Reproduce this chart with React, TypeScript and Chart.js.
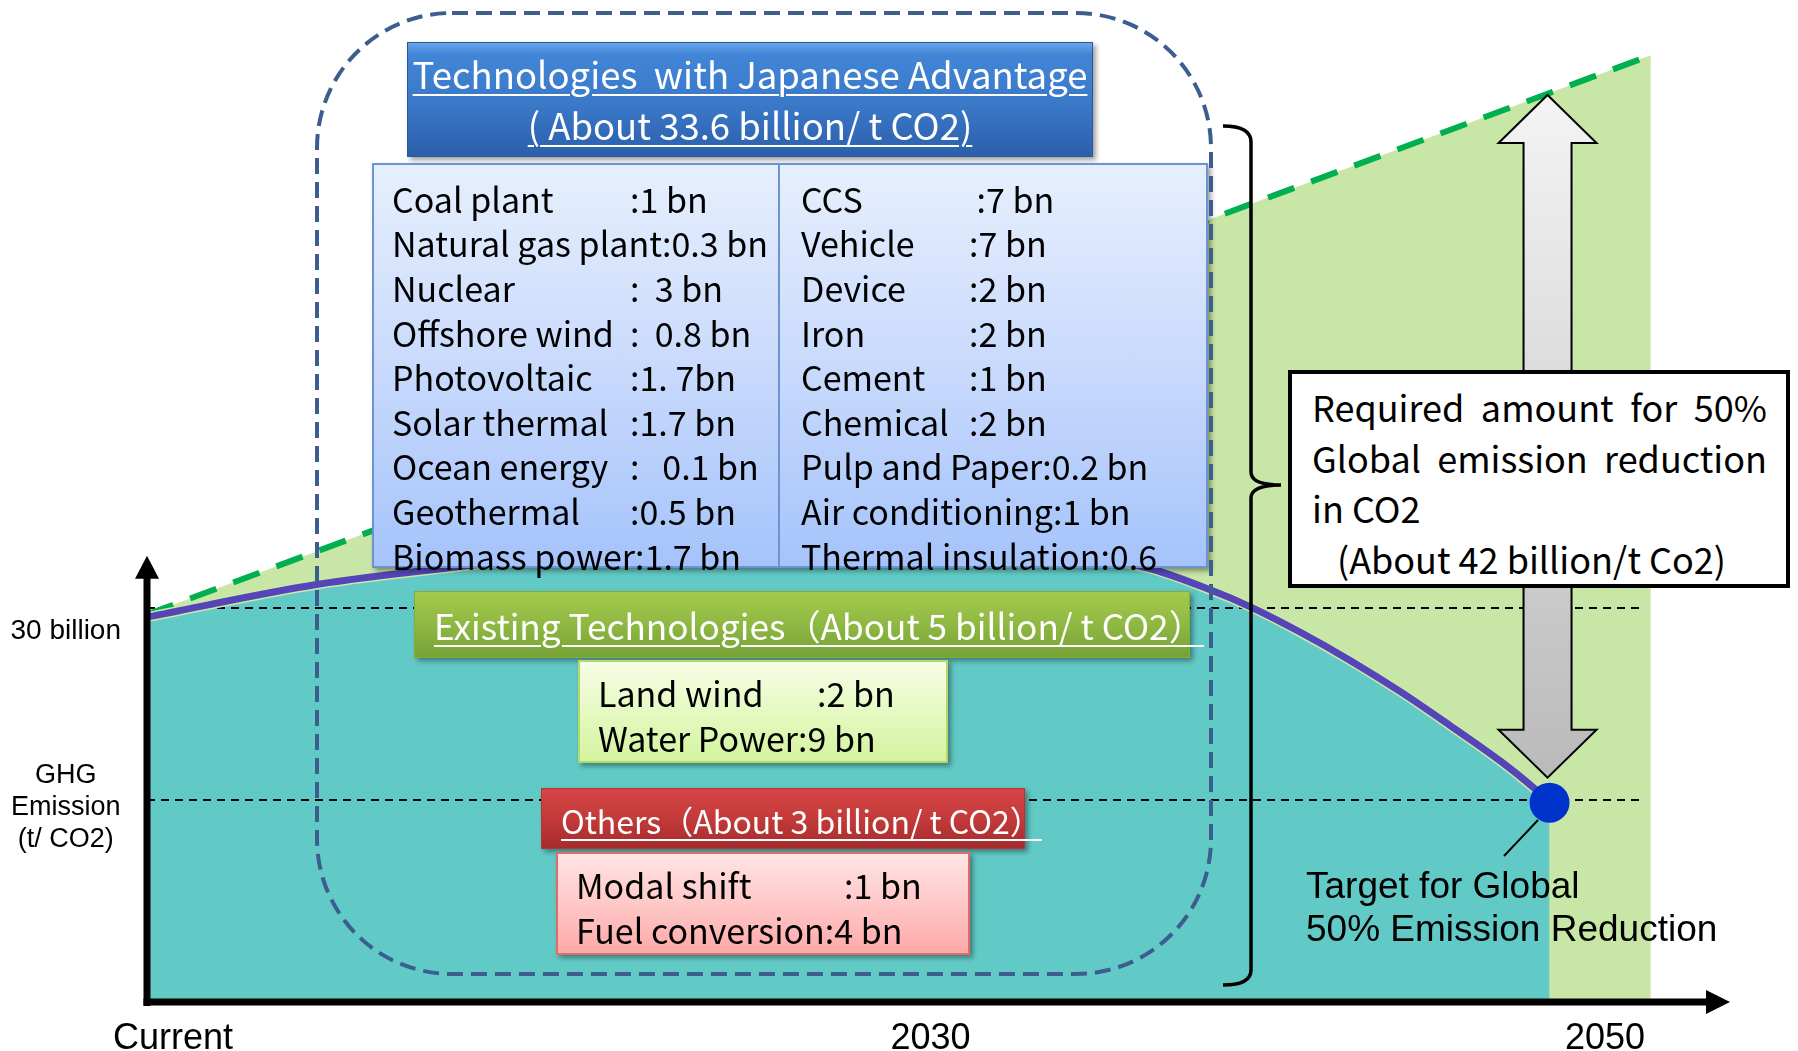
import React, { useEffect, useRef } from "react";
import { Chart, registerables } from "chart.js";

Chart.register(...registerables);

// ---------- data ----------
const xTickValues = [1.64, 49.5, 92.1];
const xTickLabels = ["Current", "2030", "2050"];
const refLevels = [30, 15.3];
const yTickValues = [15.3, 30];
const yTickLabels = [["GHG", "Emission", "(t/ CO2)"], ["", "30 billion"]];

const emissionX = [0, 10.7, 19.3, 38.7, 53.9, 63.2, 67.2, 69.7, 72.8, 76.0, 79.2, 82.3, 85.5, 87.6, 88.6];
const emissionY = [29.3, 31.8, 33.1, 35.4, 34.7, 33.06, 31.37, 30.09, 28.18, 25.99, 23.58, 21.02, 18.28, 16.23, 15.07];
const bauX = [0, 95.0];
const bauY = [29.5, 72.3];
const refLineX = [0, 94.6];
const targetX = 88.6;
const targetY = 15.1;
const yAxisTop = 34.0;

const headerJapan = ["Technologies  with Japanese Advantage", "( About 33.6 billion/ t CO2)"];
const leftTechNames = ["Coal plant", "Natural gas plant", "Nuclear", "Offshore wind", "Photovoltaic", "Solar thermal", "Ocean energy", "Geothermal", "Biomass power"];
const leftTechValues = [":1 bn", ":0.3 bn", ":  3 bn", ":  0.8 bn", ":1. 7bn", ":1.7 bn", ":   0.1 bn", ":0.5 bn", ":1.7 bn"];
const rightTechNames = ["CCS", "Vehicle", "Device", "Iron", "Cement", "Chemical", "Pulp and Paper", "Air conditioning", "Thermal insulation"];
const rightTechValues = [" :7 bn", ":7 bn", ":2 bn", ":2 bn", ":1 bn", ":2 bn", ":0.2 bn", ":1 bn", ":0.6"];
const headerExisting = "Existing Technologies（About 5 billion/ t CO2）";
const existingNames = ["Land wind", "Water Power"];
const existingValues = [":2 bn", ":9 bn"];
const headerOthers = "Others（About 3 billion/ t CO2）";
const otherNames = ["Modal shift", "Fuel conversion"];
const otherValues = [":1 bn", ":4 bn"];
const requiredLines = ["Required amount for 50%", "Global emission reduction", "in CO2", "(About 42 billion/t Co2)"];
const targetLines = ["Target for Global", "50% Emission Reduction"];

// ---------- styles ----------
const JP = '"Noto Sans CJK JP", "Noto Sans", sans-serif';
const AR = '"Liberation Sans", Arial, sans-serif';
const K_JP = 0.436;
const K_AR = 0.3465;

function Txt(props: any) {
  const { x, baseline, fs, lh, family = JP, k = K_JP, color = "#000", width, align, underline, extra, children } = props;
  return (
    <div
      style={{
        position: "absolute",
        left: x,
        top: baseline - (lh / 2 + k * fs),
        width,
        height: lh,
        lineHeight: lh + "px",
        fontSize: fs,
        fontFamily: family,
        color,
        whiteSpace: "pre",
        textAlign: align,
        textDecoration: underline ? "underline" : "none",
        textDecorationThickness: underline ? 2 : undefined,
        textUnderlineOffset: underline ? 5 : undefined,
        zIndex: 3,
        ...extra,
      }}
    >
      {children}
    </div>
  );
}

function Rows(props: any) {
  const { names, values, x, base, step, fs, nameW } = props;
  return (
    <>
      {names.map((n: string, i: number) => (
        <Txt key={i} x={x} baseline={base + i * step} fs={fs} lh={step}>
          <span style={{ display: "inline-block", minWidth: Array.isArray(nameW) ? nameW[i] : nameW }}>{n}</span>
          {values[i]}
        </Txt>
      ))}
    </>
  );
}

function Box(props: any) {
  const { l, t, w, h, bg, border, shadow = true, z = 2 } = props;
  return (
    <div
      style={{
        position: "absolute",
        left: l,
        top: t,
        width: w,
        height: h,
        boxSizing: "border-box",
        background: bg,
        border,
        boxShadow: shadow ? "3px 3px 5px rgba(0,0,0,0.38)" : undefined,
        zIndex: z,
      }}
    />
  );
}

export default function App() {
  const canvasRef = useRef<HTMLCanvasElement>(null);

  useEffect(() => {
    const decor = {
      id: "decor",
      afterDatasetsDraw(chart: any) {
        const { ctx, chartArea: a, scales } = chart;
        const xs = scales.x;
        const ys = scales.y;
        ctx.save();
        // gray double arrow between BAU line and target
        const ax = xs.getPixelForValue(targetX) - 2;
        const bauAt = bauY[0] + ((bauY[1] - bauY[0]) * (targetX - bauX[0])) / (bauX[1] - bauX[0]);
        const top = ys.getPixelForValue(bauAt) + 2;
        const bot = ys.getPixelForValue(targetY) - 25;
        const hw = 49, sw = 24, hl = 48;
        ctx.beginPath();
        ctx.moveTo(ax, top);
        ctx.lineTo(ax + hw, top + hl);
        ctx.lineTo(ax + sw, top + hl);
        ctx.lineTo(ax + sw, bot - hl);
        ctx.lineTo(ax + hw, bot - hl);
        ctx.lineTo(ax, bot);
        ctx.lineTo(ax - hw, bot - hl);
        ctx.lineTo(ax - sw, bot - hl);
        ctx.lineTo(ax - sw, top + hl);
        ctx.lineTo(ax - hw, top + hl);
        ctx.closePath();
        const g = ctx.createLinearGradient(0, top, 0, bot);
        g.addColorStop(0, "#f4f4f4");
        g.addColorStop(1, "#bababa");
        ctx.fillStyle = g;
        ctx.fill();
        ctx.lineWidth = 2;
        ctx.strokeStyle = "#000";
        ctx.stroke();

        // axes with arrow heads
        ctx.fillStyle = "#000";
        ctx.strokeStyle = "#000";
        ctx.lineWidth = 7;
        const yTip = ys.getPixelForValue(yAxisTop);
        ctx.beginPath();
        ctx.moveTo(a.left, a.bottom + 6);
        ctx.lineTo(a.left, yTip + 20);
        ctx.stroke();
        ctx.beginPath();
        ctx.moveTo(a.left, yTip);
        ctx.lineTo(a.left + 12, yTip + 23);
        ctx.lineTo(a.left - 12, yTip + 23);
        ctx.closePath();
        ctx.fill();
        const yb = a.bottom + 2;
        ctx.beginPath();
        ctx.moveTo(a.left - 3.5, yb);
        ctx.lineTo(a.right - 20, yb);
        ctx.stroke();
        ctx.beginPath();
        ctx.moveTo(a.right, yb);
        ctx.lineTo(a.right - 24, yb - 12);
        ctx.lineTo(a.right - 24, yb + 12);
        ctx.closePath();
        ctx.fill();
        ctx.restore();
      },
    };

    const refSets = refLevels.map((lv) => ({
      label: "ref " + lv,
      data: refLineX.map((x) => ({ x, y: lv })),
      borderColor: "#000",
      borderWidth: 2,
      borderDash: [8, 6],
      pointRadius: 0,
      fill: false,
      tension: 0,
      order: 7,
    }));

    const emissionData = emissionX.map((x, i) => ({ x, y: emissionY[i] }));

    const chart = new Chart(canvasRef.current as HTMLCanvasElement, {
      type: "line",
      data: {
        datasets: [
          {
            label: "Target",
            data: [{ x: targetX, y: targetY }],
            showLine: false,
            pointRadius: 20,
            pointBackgroundColor: "#0033cc",
            pointBorderWidth: 0,
            fill: false,
            order: 0,
          },
          {
            label: "Emission",
            data: emissionData,
            borderColor: "#5446b9",
            borderWidth: 7,
            backgroundColor: "#62cac6",
            fill: "origin",
            pointRadius: 0,
            cubicInterpolationMode: "monotone",
            order: 1,
          },
          {
            label: "Emission halo",
            data: emissionData,
            borderColor: "#cfe8a6",
            borderWidth: 10,
            fill: false,
            pointRadius: 0,
            cubicInterpolationMode: "monotone",
            order: 5,
          },
          {
            label: "BAU",
            data: bauX.map((x, i) => ({ x, y: bauY[i] })),
            borderColor: "#00b050",
            borderWidth: 6,
            borderDash: [28, 18],
            backgroundColor: "#c8e6a5",
            fill: "origin",
            pointRadius: 0,
            tension: 0,
            order: 6,
          },
          ...refSets,
        ] as any,
      },
      options: {
        animation: false,
        responsive: false,
        maintainAspectRatio: false,
        events: [],
        layout: { padding: { top: 20, right: 68, left: 0, bottom: 0 } },
        plugins: {
          legend: { display: false },
          tooltip: { enabled: false },
          filler: { drawTime: "beforeDatasetsDraw" },
        } as any,
        scales: {
          x: {
            type: "linear",
            min: 0,
            max: 100,
            grid: { display: false, drawTicks: false },
            border: { display: false },
            afterBuildTicks: (s: any) => {
              s.ticks = xTickValues.map((v) => ({ value: v }));
            },
            afterFit: (s: any) => {
              s.height = 51;
              s.paddingLeft = 0;
              s.paddingRight = 0;
            },
            ticks: {
              autoSkip: false,
              maxRotation: 0,
              padding: 17,
              color: "#000",
              font: { family: AR, size: 36, lineHeight: 1.2 },
              callback: (_v: any, i: number) => xTickLabels[i],
            },
          },
          y: {
            type: "linear",
            min: 0,
            max: 75,
            grid: { display: false, drawTicks: false },
            border: { display: false },
            afterBuildTicks: (s: any) => {
              s.ticks = yTickValues.map((v) => ({ value: v }));
            },
            afterFit: (s: any) => {
              s.width = 147;
              s.paddingTop = 0;
              s.paddingBottom = 0;
            },
            ticks: {
              crossAlign: "center",
              padding: 26,
              labelOffset: 7,
              color: "#000",
              font: (c: any) =>
                c.tick && c.tick.value === 30
                  ? { family: AR, size: 28, lineHeight: 32 / 28 }
                  : { family: AR, size: 27, lineHeight: 32 / 27 },
              callback: (v: any) => {
                const i = yTickValues.indexOf(Number(v));
                return i >= 0 ? yTickLabels[i] : "";
              },
            },
          },
        } as any,
      },
      plugins: [decor],
    });
    return () => chart.destroy();
  }, []);

  const listStep = 44.6;
  const justify = { textAlign: "justify", textAlignLast: "justify", whiteSpace: "normal" };

  return (
    <div style={{ position: "fixed", left: 0, top: 0, width: 1798, height: 1051, background: "#fff", overflow: "hidden" }}>
      <canvas ref={canvasRef} width={1798} height={1051} style={{ position: "absolute", left: 0, top: 0, width: 1798, height: 1051 }} />

      {/* Japanese advantage header */}
      <Box l={407} t={42} w={686} h={115} bg="linear-gradient(180deg,#66a6ea 0%,#4285d6 10%,#3a78c8 55%,#2c5fab 100%)" border="1px solid #2a5898" />
      <Txt x={407} width={686} align="center" baseline={90} fs={36.5} lh={50} color="#fff" underline>{headerJapan[0]}</Txt>
      <Txt x={407} width={686} align="center" baseline={141} fs={36.5} lh={50} color="#fff" underline>{headerJapan[1]}</Txt>

      {/* Japanese advantage list */}
      <Box l={372} t={163} w={836} h={405} bg="linear-gradient(180deg,#e6effd 0%,#c9dafc 50%,#a5c3fb 100%)" border="2px solid #6d93d1" />
      <div style={{ position: "absolute", left: 778, top: 163, width: 2, height: 405, background: "#6d93d1", zIndex: 2 }} />
      <Rows names={leftTechNames} values={leftTechValues} x={392} base={214} step={listStep} fs={34} nameW={238} />
      <Rows names={rightTechNames} values={rightTechValues} x={801} base={214} step={listStep} fs={34} nameW={168} />

      {/* Existing technologies */}
      <Box l={414} t={591} w={776} h={67} bg="linear-gradient(180deg,#a4ca4c 0%,#8fb843 50%,#76a136 100%)" border="1px solid #84ad3e" />
      <Txt x={434} baseline={640} fs={35.2} lh={50} color="#fff" underline>{headerExisting}</Txt>
      <Box l={578} t={660} w={370} h={103} bg="linear-gradient(180deg,#f7fde6 0%,#e6f9c2 50%,#d3f49f 100%)" border="2px solid #b6d66e" />
      <Rows names={existingNames} values={existingValues} x={598} base={707} step={45} fs={34} nameW={[219, 0]} />

      {/* Others */}
      <Box l={541} t={788} w={484} h={61} bg="linear-gradient(180deg,#d64545 0%,#c33a3a 50%,#a62b2b 100%)" border="1px solid #b53535" />
      <Txt x={561} baseline={834} fs={32} lh={46} color="#fff" underline>{headerOthers}</Txt>
      <Box l={556} t={852} w={414} h={103} bg="linear-gradient(180deg,#ffe4e4 0%,#ffc8c8 50%,#ffa9a9 100%)" border="2px solid #e06b6b" />
      <Rows names={otherNames} values={otherValues} x={576} base={899} step={45} fs={34} nameW={[268, 0]} />

      {/* Required amount box */}
      <Box l={1288} t={370} w={502} h={218} bg="#fff" border="4px solid #000" shadow={false} />
      <Txt x={1312} width={455} baseline={422} fs={36} lh={50} extra={justify}>{requiredLines[0]}</Txt>
      <Txt x={1312} width={455} baseline={473} fs={36} lh={50} extra={justify}>{requiredLines[1]}</Txt>
      <Txt x={1312} baseline={523} fs={36} lh={50}>{requiredLines[2]}</Txt>
      <Txt x={1337} baseline={574} fs={36} lh={50}>{requiredLines[3]}</Txt>

      {/* Target annotation */}
      <Txt x={1306} baseline={898} fs={37} lh={43} family={AR} k={K_AR}>{targetLines[0]}</Txt>
      <Txt x={1306} baseline={941} fs={37} lh={43} family={AR} k={K_AR}>{targetLines[1]}</Txt>

      <svg width={1798} height={1051} style={{ position: "absolute", left: 0, top: 0, zIndex: 4, pointerEvents: "none" }}>
        <rect x={317} y={13} width={894} height={961} rx={135} ry={135} fill="none" stroke="#3b5e8e" strokeWidth={4} strokeDasharray="16 8" />
        <path
          d="M 1223 126 Q 1251 126 1251 142 L 1251 472 Q 1251 485 1281 485 Q 1251 485 1251 498 L 1251 970 Q 1251 985 1223 985"
          fill="none"
          stroke="#000"
          strokeWidth={3.5}
        />
        <line x1={1538} y1={820} x2={1504} y2={856} stroke="#000" strokeWidth={2} />
      </svg>
    </div>
  );
}
